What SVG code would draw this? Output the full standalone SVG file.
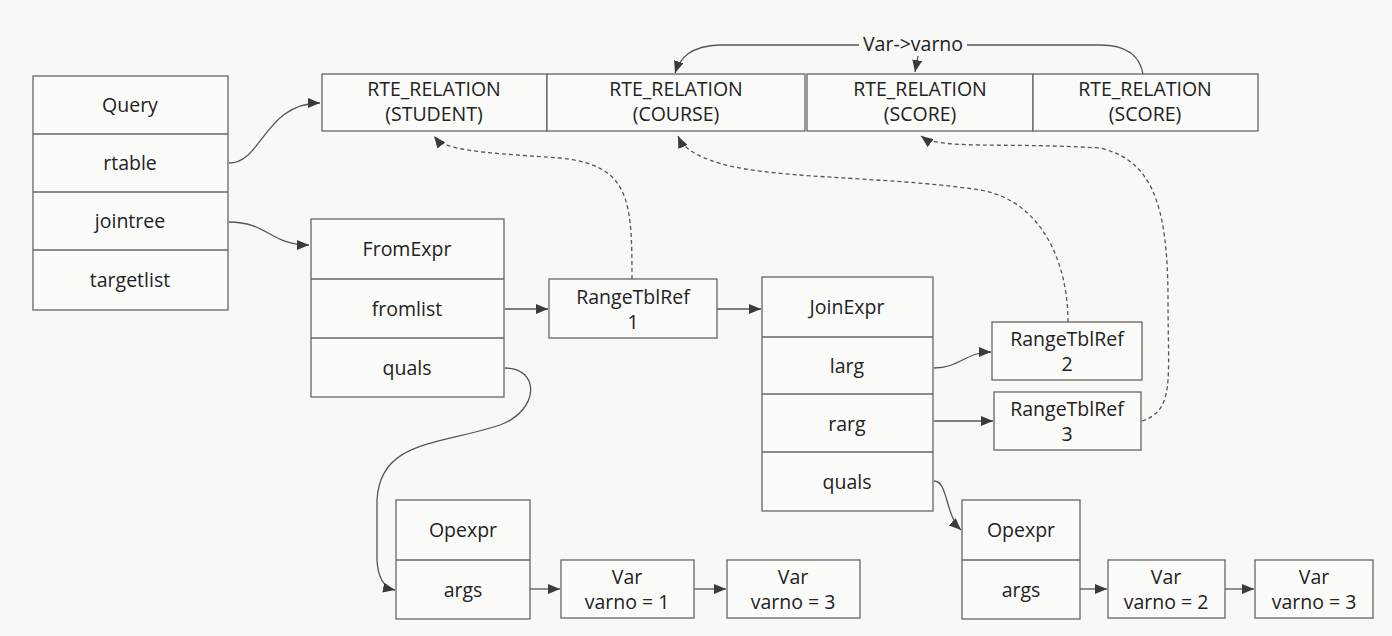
<svg xmlns="http://www.w3.org/2000/svg" width="1392" height="636" viewBox="0 0 1392 636">
<defs>
<marker id="ah" viewBox="0 0 12 10" refX="12" refY="5" markerWidth="12" markerHeight="10" markerUnits="userSpaceOnUse" orient="auto">
<path d="M0,0 L12,5 L0,10 z" fill="#3a3a3a"/>
</marker>
</defs>
<style>
rect{fill:#fbfbfa;stroke:#666;stroke-width:1.3}
line.d{stroke:#666;stroke-width:1.3}
text{font-family:"Open Sans","Noto Sans",sans-serif;font-size:19.5px;fill:#222;text-anchor:middle}
.c{fill:none;stroke:#555;stroke-width:1.3;marker-end:url(#ah)}
.dash{stroke-dasharray:4,3}
</style>
<rect x="0" y="0" width="1392" height="636" style="fill:#f8f8f6;stroke:none"/>

<g id="query">
<rect x="33" y="76" width="195" height="234"/>
<line class="d" x1="33" y1="134" x2="228" y2="134"/>
<line class="d" x1="33" y1="192" x2="228" y2="192"/>
<line class="d" x1="33" y1="250" x2="228" y2="250"/>
<text x="130" y="112">Query</text>
<text x="130" y="170">rtable</text>
<text x="130" y="228">jointree</text>
<text x="130" y="287">targetlist</text>
</g>

<g id="rte_student">
<rect x="322" y="74" width="225" height="57"/>
<text x="434" y="96">RTE_RELATION</text>
<text x="434" y="121">(STUDENT)</text>
</g>
<g id="rte_course">
<rect x="547" y="74" width="258" height="57"/>
<text x="676" y="96">RTE_RELATION</text>
<text x="676" y="121">(COURSE)</text>
</g>
<g id="rte_score1">
<rect x="807" y="74" width="226" height="57"/>
<text x="920" y="96">RTE_RELATION</text>
<text x="920" y="121">(SCORE)</text>
</g>
<g id="rte_score2">
<rect x="1033" y="74" width="225" height="57"/>
<text x="1145" y="96">RTE_RELATION</text>
<text x="1145" y="121">(SCORE)</text>
</g>

<g id="fromexpr">
<rect x="311" y="219" width="193" height="178"/>
<line class="d" x1="311" y1="279" x2="504" y2="279"/>
<line class="d" x1="311" y1="338" x2="504" y2="338"/>
<text x="407" y="256">FromExpr</text>
<text x="407" y="316">fromlist</text>
<text x="407" y="375">quals</text>
</g>

<g id="rtr1">
<rect x="549" y="279" width="168" height="59"/>
<text x="633" y="304">RangeTblRef</text>
<text x="633" y="329">1</text>
</g>

<g id="joinexpr">
<rect x="762" y="277" width="171" height="234"/>
<line class="d" x1="762" y1="337" x2="933" y2="337"/>
<line class="d" x1="762" y1="394" x2="933" y2="394"/>
<line class="d" x1="762" y1="452" x2="933" y2="452"/>
<text x="847" y="314">JoinExpr</text>
<text x="847" y="373">larg</text>
<text x="847" y="431">rarg</text>
<text x="847" y="489">quals</text>
</g>

<g id="rtr2">
<rect x="992" y="322" width="150" height="58"/>
<text x="1067" y="346">RangeTblRef</text>
<text x="1067" y="371">2</text>
</g>
<g id="rtr3">
<rect x="994" y="392" width="147" height="58"/>
<text x="1067" y="416">RangeTblRef</text>
<text x="1067" y="441">3</text>
</g>

<g id="opexpr1">
<rect x="396" y="500" width="134" height="119"/>
<line class="d" x1="396" y1="560" x2="530" y2="560"/>
<text x="463" y="537">Opexpr</text>
<text x="463" y="597">args</text>
</g>
<g id="var1">
<rect x="561" y="560" width="133" height="58"/>
<text x="627" y="584">Var</text>
<text x="627" y="609">varno = 1</text>
</g>
<g id="var3a">
<rect x="727" y="560" width="133" height="58"/>
<text x="793" y="584">Var</text>
<text x="793" y="609">varno = 3</text>
</g>

<g id="opexpr2">
<rect x="962" y="500" width="118" height="119"/>
<line class="d" x1="962" y1="560" x2="1080" y2="560"/>
<text x="1021" y="537">Opexpr</text>
<text x="1021" y="597">args</text>
</g>
<g id="var2">
<rect x="1108" y="560" width="117" height="58"/>
<text x="1166" y="584">Var</text>
<text x="1166" y="609">varno = 2</text>
</g>
<g id="var3b">
<rect x="1255" y="560" width="118" height="58"/>
<text x="1314" y="584">Var</text>
<text x="1314" y="609">varno = 3</text>
</g>

<g id="label_varno">
<text x="913" y="51">Var-&gt;varno</text>
</g>

<g id="connectors">
<path class="c" d="M229,163 C262,163 265,103 320,103"/>
<path class="c" d="M229,222 C268,222 270,245 309,245"/>
<path class="c" d="M505,309 L548,309"/>
<path class="c" d="M717,309 L761,309"/>
<path class="c" d="M934,368 C960,368 965,352 991,352"/>
<path class="c" d="M934,421 L993,421"/>
<path class="c" d="M934,481 C948,481 945,515 961,530"/>
<path class="c" d="M530,589 L560,589"/>
<path class="c" d="M694,589 L726,589"/>
<path class="c" d="M1080,589 L1107,589"/>
<path class="c" d="M1225,589 L1254,589"/>
<path class="c" d="M505,368 C540,368 540,410 500,425 C440,445 380,440 377,500 L377,560 C378,580 385,588 395,590"/>
<path class="c" d="M859,45 L720,45 C690,46 680,58 675,73"/>
<path d="M967,45 L1100,45 C1130,45 1140,58 1143,74" fill="none" stroke="#555" stroke-width="1.3"/>
<path class="c" d="M918,56 L915,72"/>
<path class="c dash" d="M632,279 C632,200 630,165 560,158 C470,152 445,150 434,136"/>
<path class="c dash" d="M1068,322 C1068,260 1040,200 980,190 C880,175 760,180 710,160 C690,153 682,145 678,136"/>
<path class="c dash" d="M1142,421 C1175,410 1168,380 1168,300 C1168,200 1150,160 1100,148 C1000,142 940,150 921,136"/>
</g>
</svg>
